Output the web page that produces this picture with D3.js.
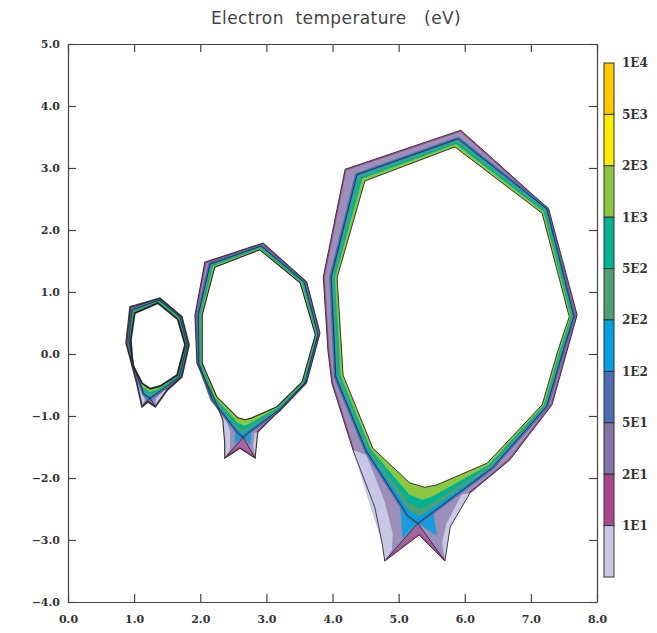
<!DOCTYPE html>
<html>
<head>
<meta charset="utf-8">
<script src="https://cdn.jsdelivr.net/npm/d3@7"></script>
<style>
  body { margin: 0; background: #fff; }
  .tick text { font-family: "DejaVu Serif", serif; font-weight: bold; font-size: 11px; fill: #333; }
</style>
</head>
<body>
<div id="chart"></div>
<script>
const chartTitle = 'Electron  temperature   (eV)';
const xTicks = [0, 1, 2, 3, 4, 5, 6, 7, 8];
const yTicks = [-4, -3, -2, -1, 0, 1, 2, 3, 4, 5];

// colour bar, top to bottom
const levelLabels = ['1E4', '5E3', '2E3', '1E3', '5E2', '2E2', '1E2', '5E1', '2E1', '1E1'];
const levelColors = ['#ffc800', '#ffed00', '#8dc63f', '#00b294', '#4f9f74', '#00a0e3', '#4d6db0', '#8373a8', '#a8468b', '#c9c7e6'];

// contour positions between separatrix (0) and core boundary (1), with their level index
const coreLevels = [0, 0.18, 0.4, 0.65];
const coreLevelIdx = [5, 4, 3, 2];

// large machine (x = R, y = Z, metres)
const bigOuter = [[4.79,-3.34],[4.75,-3.05],[4.64,-2.47],[4.31,-1.55],[3.99,-0.47],[3.93,0.06],[3.86,1.24],[4.19,2.98],[5.94,3.61],[7.27,2.34],[7.70,0.63],[7.55,0.06],[7.32,-0.82],[6.68,-1.71],[6.08,-2.24],[5.78,-2.79],[5.70,-3.34],[5.31,-2.92]];
const bigSep = [[4.37,2.89],[5.90,3.47],[7.24,2.34],[7.65,0.61],[7.49,0.06],[7.24,-0.84],[6.41,-1.84],[5.44,-2.61],[5.29,-2.73],[5.14,-2.61],[4.51,-1.56],[4.05,-0.37],[3.98,1.24]];
const bigCore = [[4.49,2.79],[5.85,3.34],[7.17,2.27],[7.58,0.60],[7.41,0.06],[7.17,-0.82],[6.34,-1.76],[5.58,-2.11],[5.40,-2.15],[5.17,-2.08],[4.61,-1.52],[4.16,-0.34],[4.07,1.23]];
const bigLegL = [[4.31,-1.55],[4.54,-2.35],[4.75,-3.05],[4.79,-3.34],[4.90,-3.16],[4.91,-2.89],[4.78,-2.35],[4.51,-1.63]];
const bigLegR = [[6.08,-2.24],[5.78,-2.79],[5.70,-3.34],[5.66,-3.05],[5.72,-2.74],[5.95,-2.27]];
const bigPrivate = [[5.29,-2.73],[4.79,-3.34],[5.31,-2.92],[5.70,-3.34]];
const bigWedges = [[[5.29,-2.73],[5.02,-2.42],[5.06,-2.97]], [[5.29,-2.73],[5.52,-2.55],[5.58,-2.93]]];

// medium machine
const midOuter = [[2.37,-1.68],[2.37,-1.44],[2.34,-1.06],[2.22,-0.74],[1.95,-0.15],[1.92,0.63],[2.07,1.48],[2.95,1.79],[3.61,1.16],[3.81,0.34],[3.61,-0.45],[3.21,-0.90],[2.87,-1.26],[2.83,-1.68],[2.60,-1.52]];
const midSep = [[2.15,1.45],[2.92,1.74],[3.57,1.16],[3.78,0.32],[3.58,-0.47],[3.19,-0.90],[2.72,-1.27],[2.65,-1.34],[2.57,-1.27],[2.18,-0.73],[1.98,-0.15],[1.97,0.63]];
const midCore = [[2.22,1.40],[2.90,1.68],[3.51,1.15],[3.74,0.31],[3.54,-0.45],[3.16,-0.85],[2.78,-1.03],[2.68,-1.06],[2.57,-1.03],[2.25,-0.69],[2.03,-0.15],[2.03,0.63]];
const midLegL = [[2.22,-0.74],[2.34,-1.06],[2.37,-1.44],[2.37,-1.68],[2.45,-1.55],[2.45,-1.25],[2.36,-0.95],[2.26,-0.72]];
const midLegR = [[2.87,-1.26],[2.83,-1.68],[2.80,-1.50],[2.82,-1.28]];
const midPrivate = [[2.65,-1.34],[2.37,-1.68],[2.60,-1.52],[2.83,-1.68]];
const midWedges = [[[2.65,-1.34],[2.53,-1.21],[2.52,-1.45]], [[2.65,-1.34],[2.77,-1.23],[2.76,-1.47]]];

// small machine
const smallOuter = [[1.12,-0.85],[1.04,-0.47],[0.88,0.18],[0.94,0.76],[1.39,0.90],[1.72,0.60],[1.83,0.15],[1.72,-0.37],[1.50,-0.58],[1.32,-0.85],[1.21,-0.77]];
const smallSep = [[0.97,0.71],[1.38,0.87],[1.69,0.60],[1.80,0.15],[1.68,-0.37],[1.35,-0.63],[1.24,-0.71],[1.15,-0.65],[1.00,-0.21],[0.92,0.23]];
const smallCore = [[1.01,0.66],[1.36,0.82],[1.66,0.56],[1.77,0.15],[1.65,-0.34],[1.39,-0.52],[1.24,-0.56],[1.12,-0.47],[0.98,-0.18],[0.95,0.23]];
const smallLegL = [[1.04,-0.47],[1.12,-0.85],[1.16,-0.74],[1.09,-0.47]];
const smallLegR = [[1.50,-0.58],[1.32,-0.85],[1.33,-0.72],[1.45,-0.58]];
const smallPrivate = [[1.24,-0.71],[1.12,-0.85],[1.21,-0.77],[1.32,-0.85]];
const smallWedges = [[[1.24,-0.71],[1.18,-0.62],[1.17,-0.77]], [[1.24,-0.71],[1.30,-0.63],[1.29,-0.78]]];

const rings = [
  { outer: smallOuter, sep: smallSep, core: smallCore, legs: [smallLegL, smallLegR], priv: smallPrivate, wedges: smallWedges, lw: 1.8 },
  { outer: midOuter, sep: midSep, core: midCore, legs: [midLegL, midLegR], priv: midPrivate, wedges: midWedges, lw: 1.1 },
  { outer: bigOuter, sep: bigSep, core: bigCore, legs: [bigLegL, bigLegR], priv: bigPrivate, wedges: bigWedges, lw: 0.9 }
];

const width = 657, height = 633;

const svg = d3.select('#chart')
  .append('svg')
  .attr('width', width)
  .attr('height', height);

const x = d3.scaleLinear().domain([0, 8]).range([68, 597]);
const y = d3.scaleLinear().domain([-4, 5]).range([602, 44]);

const line = d3.line().x(d => x(d[0])).y(d => y(d[1]));
const closed = pts => line(pts) + 'Z';

// polygon lying a fraction f of the way from contour a to contour b
function between(a, b, f) {
  return a.map((p, i) => [p[0] + (b[i][0] - p[0]) * f, p[1] + (b[i][1] - p[1]) * f]);
}

svg.append('text')
  .attr('x', 336)
  .attr('y', 24)
  .attr('text-anchor', 'middle')
  .style('white-space', 'pre')
  .style('font-family', '"DejaVu Sans", sans-serif')
  .style('font-size', '17px')
  .style('letter-spacing', '0.4px')
  .attr('fill', '#444')
  .text(chartTitle);

rings.forEach((r, k) => {
  const g = svg.append('g');
  const clipId = 'rim' + k;
  g.append('clipPath').attr('id', clipId)
    .append('path').attr('d', closed(r.outer));

  g.append('path')
    .attr('d', closed(r.outer))
    .attr('fill', levelColors[7])
    .attr('fill-opacity', 0.8);

  // thin 2E1 rim along the wall side
  g.append('path')
    .attr('d', closed(r.outer))
    .attr('fill', 'none')
    .attr('stroke', levelColors[8])
    .attr('stroke-width', 3)
    .attr('clip-path', `url(#${clipId})`);

  r.legs.forEach(leg => {
    g.append('path').attr('d', closed(leg)).attr('fill', levelColors[9]);
  });

  g.append('path')
    .attr('d', closed(r.priv))
    .attr('fill', levelColors[8])
    .attr('fill-opacity', 0.6);

  r.wedges.forEach(w => {
    g.append('path').attr('d', closed(w)).attr('fill', levelColors[5]).attr('fill-opacity', 0.85);
  });

  const xpt = r.priv[0];
  const tips = [r.priv[1], r.priv[3]];

  // 1E2 layer just outside the separatrix
  g.append('path')
    .attr('d', closed(r.sep))
    .attr('fill', 'none')
    .attr('stroke', levelColors[6])
    .attr('stroke-width', 4)
    .attr('stroke-linejoin', 'round');

  coreLevels.forEach((f, i) => {
    g.append('path')
      .attr('d', closed(between(r.sep, r.core, f)))
      .attr('fill', levelColors[coreLevelIdx[i]]);
  });

  g.append('path')
    .attr('d', closed(r.core))
    .attr('fill', '#fff')
    .attr('stroke', '#222')
    .attr('stroke-width', r.lw);

  g.append('path')
    .attr('d', closed(r.sep))
    .attr('fill', 'none')
    .attr('stroke', '#222')
    .attr('stroke-width', 0.8);

  tips.forEach(t => {
    g.append('path')
      .attr('d', line([xpt, t]))
      .attr('stroke', '#222')
      .attr('stroke-width', 0.8);
  });

  g.append('path')
    .attr('d', closed(r.outer))
    .attr('fill', 'none')
    .attr('stroke', '#333')
    .attr('stroke-width', r.lw);
});

// axes with inward ticks
const fmt = d3.format('.1f');

const xAxis = svg.append('g')
  .attr('transform', `translate(0,${y(-4)})`)
  .call(d3.axisBottom(x).tickValues(xTicks).tickFormat(fmt).tickSizeInner(-8).tickSizeOuter(0).tickPadding(13));

const yAxis = svg.append('g')
  .attr('transform', `translate(${x(0)},0)`)
  .call(d3.axisLeft(y).tickValues(yTicks).tickFormat(fmt).tickSizeInner(-8).tickSizeOuter(0).tickPadding(8));

const topAxis = svg.append('g')
  .attr('transform', `translate(0,${y(5)})`)
  .call(d3.axisTop(x).tickValues(xTicks).tickFormat('').tickSizeInner(-8).tickSizeOuter(0));

const rightAxis = svg.append('g')
  .attr('transform', `translate(${x(8)},0)`)
  .call(d3.axisRight(y).tickValues(yTicks).tickFormat('').tickSizeInner(-8).tickSizeOuter(0));

[xAxis, yAxis, topAxis, rightAxis].forEach(a => {
  a.selectAll('path, line').attr('stroke', '#444').attr('stroke-width', 1.2);
});

// colour bar
const barY = d3.scaleLinear().domain([0, levelLabels.length]).range([63, 577]);

const bar = svg.append('g').attr('id', 'legend');

bar.selectAll('rect')
  .data(levelColors)
  .enter()
  .append('rect')
  .attr('x', 604)
  .attr('y', (d, i) => barY(i))
  .attr('width', 10)
  .attr('height', (d, i) => barY(i + 1) - barY(i))
  .attr('fill', d => d)
  .attr('stroke', '#333')
  .attr('stroke-width', 1);

bar.selectAll('text')
  .data(levelLabels)
  .enter()
  .append('text')
  .attr('x', 622)
  .attr('y', (d, i) => barY(i))
  .attr('dy', '0.36em')
  .style('font-family', '"DejaVu Serif", serif')
  .style('font-weight', 'bold')
  .style('font-size', '12px')
  .attr('fill', '#333')
  .text(d => d);
</script>
</body>
</html>
